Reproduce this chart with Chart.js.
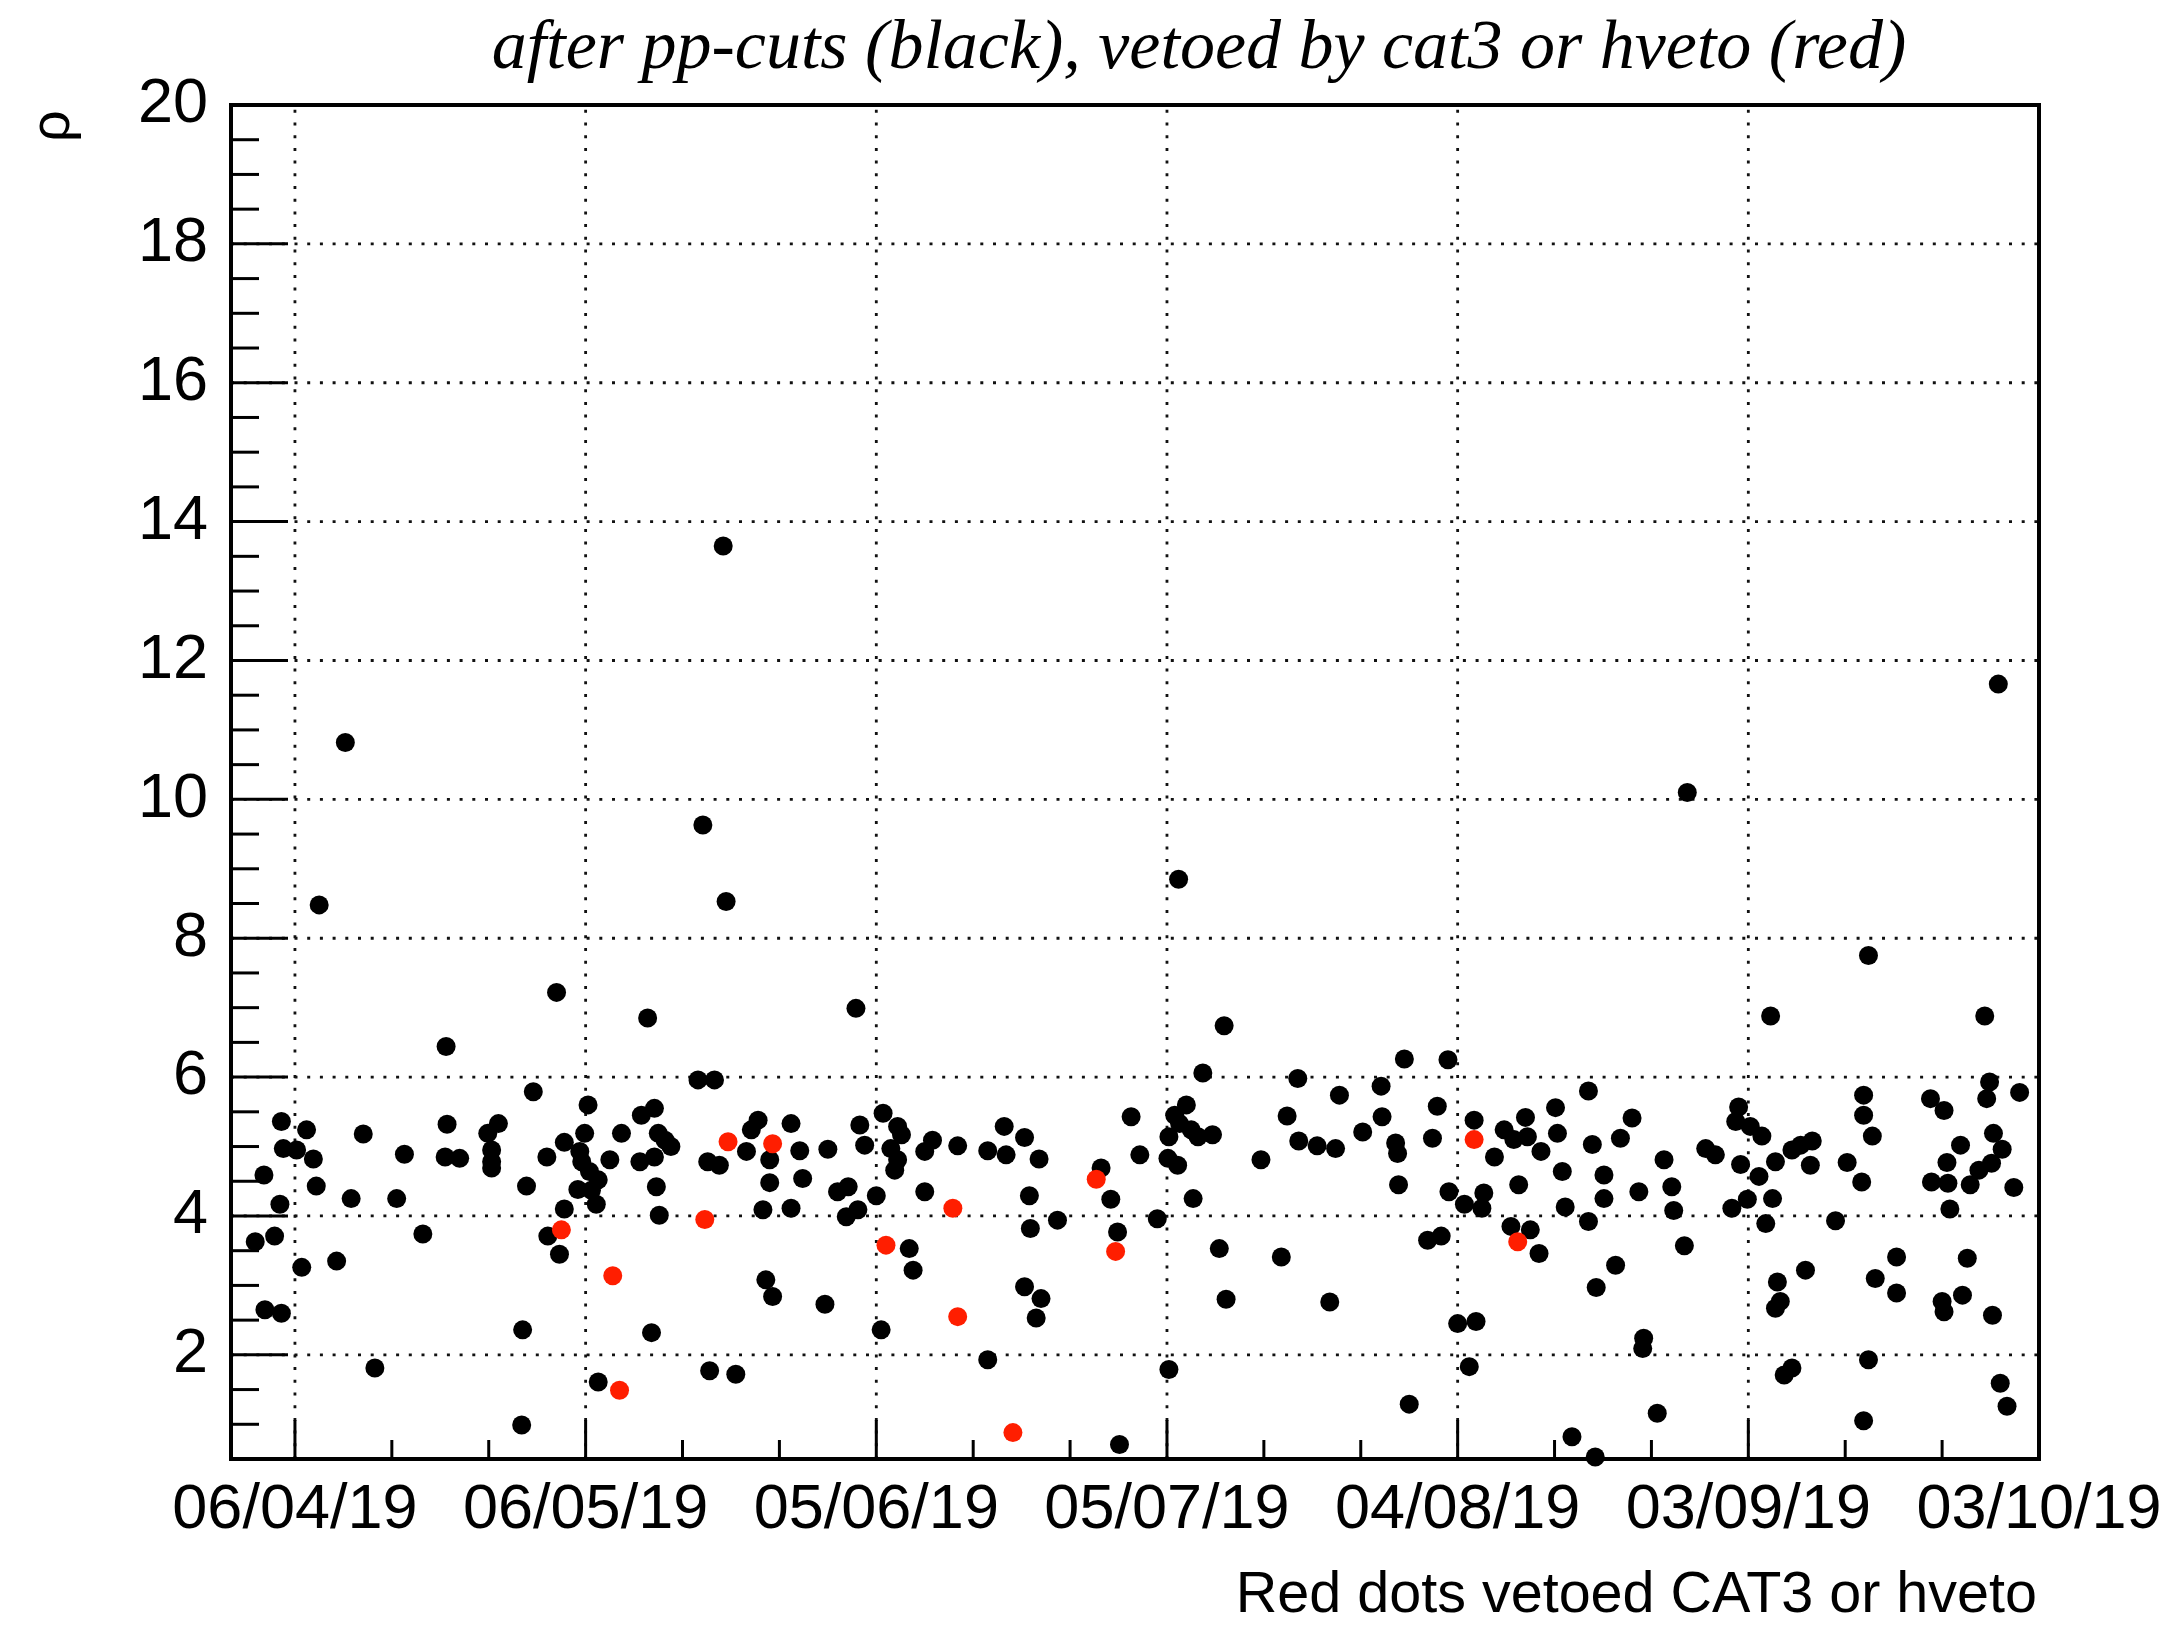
<!DOCTYPE html>
<html>
<head>
<meta charset="utf-8">
<title>rho vs time</title>
<script src="https://cdn.jsdelivr.net/npm/chart.js"></script>
<style>
  html, body { margin: 0; padding: 0; background: #fff; }
  #wrap { width: 2168px; height: 1625px; }
</style>
</head>
<body>
<div id="wrap"><canvas id="rhoChart" width="2168" height="1625"></canvas></div>
<script>
// Time axis: days counted from 06/04/19; labelled every 30 days.
const tickDays   = [0, 30, 60, 90, 120, 150, 180];
const tickLabels = ['06/04/19', '06/05/19', '05/06/19', '05/07/19', '04/08/19', '03/09/19', '03/10/19'];
const rhoTicks   = [2, 4, 6, 8, 10, 12, 14, 16, 18, 20];

// Events surviving the pp-cuts: [day, rho]
const blackEvents = [
  [27.0,7.22],[36.4,6.85],[15.6,6.44],[24.6,5.79],[30.25,5.60],[-1.4,5.36],[1.2,5.24],[7.05,5.18],
  [15.7,5.32],[21.0,5.33],[19.9,5.19],[29.9,5.19],[27.8,5.06],[33.7,5.19],[37.1,5.55],[35.75,5.45],
  [37.5,5.19],[38.2,5.09],[38.8,5.00],[-1.2,4.97],[0.17,4.95],[1.9,4.82],[11.3,4.89],[15.5,4.85],
  [17.0,4.83],[20.3,4.95],[20.3,4.78],[20.3,4.69],[26.0,4.85],[29.6,4.78],[29.4,4.93],[32.5,4.81],
  [35.6,4.78],[37.1,4.85],[30.4,4.64],[31.3,4.52],[-3.2,4.59],[2.2,4.43],[5.8,4.25],[10.5,4.25],
  [23.9,4.43],[29.2,4.38],[30.6,4.37],[37.3,4.42],[-1.55,4.17],[31.1,4.17],[27.8,4.10],[37.6,4.01],
  [-4.1,3.63],[-2.1,3.71],[13.2,3.74],[26.1,3.71],[27.3,3.45],[0.7,3.26],[4.3,3.35],[-3.1,2.65],
  [-1.4,2.60],[23.5,2.36],[36.8,2.32],[8.25,1.81],[31.3,1.61],[23.4,0.99],[2.5,8.48],[5.2,10.82],

  [57.9,6.99],[41.6,5.96],[43.3,5.96],[60.7,5.48],[86.3,5.43],[47.8,5.38],[47.1,5.24],[51.2,5.33],
  [58.3,5.31],[62.2,5.29],[62.6,5.17],[73.2,5.29],[75.3,5.13],[65.8,5.09],[58.8,5.02],[55.0,4.96],
  [46.6,4.93],[52.1,4.94],[61.5,4.97],[65.0,4.93],[68.4,5.01],[71.5,4.94],[73.4,4.88],[87.2,4.88],
  [76.8,4.82],[49.0,4.81],[62.2,4.81],[42.6,4.78],[43.8,4.73],[61.9,4.66],[83.2,4.69],[49.0,4.48],
  [52.4,4.54],[56.0,4.35],[57.1,4.42],[60.0,4.29],[65.0,4.35],[75.8,4.29],[84.2,4.24],[48.3,4.09],
  [51.2,4.11],[56.9,3.99],[58.1,4.09],[75.9,3.82],[78.7,3.94],[89.0,3.96],[84.9,3.77],[63.4,3.53],
  [63.8,3.22],[48.6,3.08],[49.3,2.84],[54.7,2.73],[75.3,2.98],[77.0,2.81],[76.5,2.53],[60.5,2.36],
  [71.5,1.93],[42.8,1.77],[45.5,1.72],[85.1,0.71],[42.1,9.63],[44.5,8.53],[44.2,13.65],

  [95.9,6.74],[93.7,6.06],[114.5,6.26],[119.0,6.25],[103.5,5.98],[107.8,5.74],[112.1,5.87],[92.0,5.60],
  [90.8,5.45],[91.3,5.33],[90.2,5.14],[92.5,5.24],[93.2,5.14],[94.7,5.17],[90.1,4.83],[91.1,4.73],
  [102.4,5.44],[103.6,5.08],[105.5,5.01],[107.4,4.97],[110.2,5.21],[112.2,5.43],[113.6,5.05],[113.8,4.90],
  [117.9,5.58],[117.4,5.12],[99.7,4.81],[113.9,4.45],[92.7,4.25],[95.4,3.53],[101.8,3.41],[96.1,2.80],
  [106.8,2.76],[90.2,1.79],[115.0,1.29],[116.9,3.65],[118.3,3.71],[121.7,5.38],[123.8,4.85],[124.8,5.24],
  [125.8,5.10],[127.0,5.42],[127.2,5.14],[128.6,4.93],[130.3,5.19],[130.1,5.56],[133.5,5.80],[133.9,5.03],
  [130.8,4.64],[135.1,4.59],[135.1,4.25],[126.3,4.45],[119.1,4.35],[120.7,4.17],[122.7,4.33],[122.5,4.11],
  [131.1,4.13],[133.5,3.92],[125.5,3.85],[127.5,3.80],[128.4,3.46],[134.3,2.97],[120.0,2.45],[121.9,2.48],
  [121.2,1.83],[131.8,0.82],[134.2,0.53],[91.2,8.85],

  [152.3,6.88],[174.4,6.88],[174.9,5.93],[174.6,5.69],[178.0,5.78],[161.9,5.74],[161.9,5.45],[162.8,5.15],
  [168.8,5.69],[170.2,5.52],[149.0,5.57],[148.7,5.36],[150.2,5.29],[151.4,5.15],[138.0,5.41],[136.8,5.12],
  [145.6,4.97],[146.6,4.88],[141.3,4.81],[149.2,4.74],[151.1,4.57],[152.8,4.78],[154.5,4.95],[155.4,5.02],
  [156.6,5.08],[156.4,4.73],[160.2,4.77],[161.7,4.49],[171.9,5.02],[175.3,5.19],[176.2,4.96],[170.5,4.77],
  [173.8,4.66],[175.1,4.76],[168.9,4.49],[170.6,4.47],[172.9,4.45],[177.4,4.41],[170.8,4.10],[138.7,4.35],
  [142.1,4.42],[142.3,4.08],[148.3,4.11],[149.9,4.24],[152.5,4.25],[151.8,3.89],[159.0,3.93],[143.4,3.57],
  [136.3,3.29],[153.0,3.05],[153.3,2.77],[152.8,2.67],[155.9,3.22],[163.1,3.10],[165.3,3.41],[165.3,2.89],
  [172.6,3.39],[172.1,2.86],[170.0,2.77],[170.2,2.62],[175.2,2.57],[139.2,2.24],[139.1,2.09],[153.7,1.71],
  [154.5,1.81],[162.4,1.93],[176.0,1.59],[176.7,1.26],[140.6,1.16],[161.9,1.05],[143.7,10.1],[162.4,7.75],
  [175.8,11.66]
];

// Events vetoed by CAT3 or hveto: [day, rho]
const redEvents = [
  [27.5,3.80],[32.8,3.14],[33.5,1.49],[44.7,5.07],[49.3,5.04],[82.7,4.53],[67.9,4.11],
  [42.3,3.95],[84.7,3.49],[61.0,3.58],[68.4,2.55],[74.1,0.88],[121.7,5.10],[126.2,3.63]
];

const W = 2168, H = 1625;
const FRAME = { left: 231, top: 105, right: 2039, bottom: 1459 };
const SANS = '"Liberation Sans", Arial, Helvetica, sans-serif';
const SERIF = '"Liberation Serif", "Times New Roman", serif';
const VETO_RED = 'rgb(255,30,0)';
const DOT_RADIUS = 9.5;

Chart.defaults.font.family = SANS;
Chart.defaults.color = '#000';

const toPoints = list => list.map(([d, r]) => ({ x: d, y: r }));

// ROOT-like decoration: dotted grid, inward tick marks, frame and titles
const rootStyle = {
  id: 'rootStyle',
  beforeDraw(chart) {
    const { ctx, width, height } = chart;
    ctx.save();
    ctx.fillStyle = '#fff';
    ctx.fillRect(0, 0, width, height);
    ctx.restore();
  },
  beforeDatasetsDraw(chart) {
    const { ctx, chartArea: a, scales: { x, y } } = chart;
    ctx.save();
    ctx.strokeStyle = '#111';
    ctx.lineWidth = 2.8;
    ctx.setLineDash([3, 9.7]);
    x.ticks.forEach(t => {
      const px = x.getPixelForValue(t.value);
      ctx.beginPath(); ctx.moveTo(px, a.bottom); ctx.lineTo(px, a.top); ctx.stroke();
    });
    y.ticks.forEach(t => {
      const py = y.getPixelForValue(t.value);
      ctx.beginPath(); ctx.moveTo(a.left, py); ctx.lineTo(a.right, py); ctx.stroke();
    });
    ctx.restore();
  },
  afterDatasetsDraw(chart) {
    const { ctx, chartArea: a, scales: { x, y } } = chart;
    ctx.save();
    ctx.setLineDash([]);
    ctx.strokeStyle = '#000';
    ctx.lineWidth = 3;
    // time axis: long marks at labels, short marks every 10 days
    for (let d = 0; d <= 180; d += 10) {
      const px = x.getPixelForValue(d);
      const len = d % 30 === 0 ? 39 : 19;
      ctx.beginPath(); ctx.moveTo(px, a.bottom); ctx.lineTo(px, a.bottom - len); ctx.stroke();
    }
    // rho axis: long marks every 2, short marks every 0.5
    for (let k = 2; k <= 40; k++) {
      const v = k / 2;
      const py = y.getPixelForValue(v);
      const len = k % 4 === 0 ? 57 : 28;
      ctx.beginPath(); ctx.moveTo(a.left, py); ctx.lineTo(a.left + len, py); ctx.stroke();
    }
    ctx.lineWidth = 4;
    ctx.strokeRect(a.left, a.top, a.right - a.left, a.bottom - a.top);
    ctx.restore();
  },
  afterDraw(chart) {
    const { ctx, chartArea: a } = chart;
    ctx.save();
    ctx.fillStyle = '#000';
    ctx.textBaseline = 'alphabetic';

    ctx.font = 'italic 70px ' + SERIF;
    ctx.textAlign = 'center';
    ctx.fillText('after pp-cuts (black), vetoed by cat3 or hveto (red)', 1199, 68);

    ctx.font = '57.5px ' + SANS;
    ctx.textAlign = 'right';
    ctx.fillText('Red dots vetoed CAT3 or hveto', a.right - 2, 1612);

    ctx.translate(54, 126);
    ctx.rotate(-Math.PI / 2);
    ctx.textAlign = 'center';
    ctx.textBaseline = 'middle';
    ctx.font = '56px ' + SANS;
    ctx.fillText('\u03C1', 0, 0);
    ctx.restore();
  }
};

new Chart(document.getElementById('rhoChart'), {
  type: 'scatter',
  data: {
    datasets: [
      {
        label: 'vetoed by cat3 or hveto',
        data: toPoints(redEvents),
        pointRadius: DOT_RADIUS,
        pointHoverRadius: DOT_RADIUS,
        pointBackgroundColor: VETO_RED,
        pointBorderColor: VETO_RED,
        pointBorderWidth: 0,
        clip: false
      },
      {
        label: 'after pp-cuts',
        data: toPoints(blackEvents),
        pointRadius: DOT_RADIUS,
        pointHoverRadius: DOT_RADIUS,
        pointBackgroundColor: '#000',
        pointBorderColor: '#000',
        pointBorderWidth: 0,
        clip: false
      }
    ]
  },
  options: {
    responsive: false,
    devicePixelRatio: 1,
    animation: false,
    events: [],
    layout: { padding: { left: 0, top: FRAME.top, right: W - FRAME.right, bottom: 0 } },
    plugins: {
      legend: { display: false },
      tooltip: { enabled: false },
      title: { display: false }
    },
    scales: {
      x: {
        type: 'linear',
        min: -6.6,
        max: 180,
        afterBuildTicks: s => { s.ticks = tickDays.map(v => ({ value: v })); },
        afterFit: s => {
          s.height = H - FRAME.bottom;
          // the outer labels may overhang the frame; keep the frame fixed
          s.paddingLeft = 0;
          s.paddingRight = 0;
        },
        grid: { display: false, drawTicks: false },
        border: { display: false },
        ticks: {
          callback: v => tickLabels[tickDays.indexOf(v)],
          font: { size: 63, family: SANS },
          color: '#000',
          padding: 14,
          maxRotation: 0,
          minRotation: 0,
          autoSkip: false
        }
      },
      y: {
        type: 'linear',
        min: 0.5,
        max: 20,
        afterBuildTicks: s => { s.ticks = rhoTicks.map(v => ({ value: v })); },
        afterFit: s => {
          s.width = FRAME.left;
          s.paddingTop = 0;
          s.paddingBottom = 0;
        },
        grid: { display: false, drawTicks: false },
        border: { display: false },
        ticks: {
          callback: v => String(v),
          font: { size: 63, family: SANS },
          color: '#000',
          padding: 23
        }
      }
    }
  },
  plugins: [rootStyle]
});
</script>
</body>
</html>
